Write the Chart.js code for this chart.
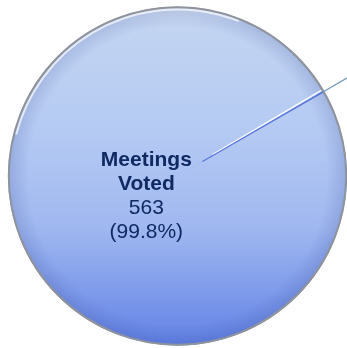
<!DOCTYPE html>
<html>
<head>
<meta charset="utf-8">
<script src="https://cdn.jsdelivr.net/npm/chart.js@4/dist/chart.umd.min.js"></script>
<style>
  html, body { margin: 0; padding: 0; background: #ffffff; }
  #wrap { width: 347px; height: 348px; position: relative; }
</style>
</head>
<body>
<div id="wrap"><canvas id="c"></canvas></div>
<script>
const categories = ["Meetings Voted", "Meetings Not Voted"];
const values = [563, 1];
const showLabel = [true, false];

const total = values.reduce((a, b) => a + b, 0);

function sliceFill(context) {
  if (context.dataIndex !== 0) return '#5c7ade';
  const chart = context.chart;
  const area = chart.chartArea;
  if (!area) return '#aac0f0';
  const g = chart.ctx.createLinearGradient(0, area.top, 0, area.bottom);
  g.addColorStop(0.00, '#d4e0f2');
  g.addColorStop(0.05, '#c2d4f1');
  g.addColorStop(0.35, '#b6cbf3');
  g.addColorStop(0.65, '#a0b8f0');
  g.addColorStop(1.00, '#6282e6');
  return g;
}

const decorPlugin = {
  id: 'decor',
  afterDatasetsDraw(chart) {
    const ctx = chart.ctx;
    const meta = chart.getDatasetMeta(0);
    const a0 = meta.data[0];
    const cx = a0.x, cy = a0.y, R = a0.outerRadius;

    // soft edge shading
    ctx.save();
    const rg = ctx.createRadialGradient(cx, cy, R * 0.88, cx, cy, R);
    rg.addColorStop(0, 'rgba(40,60,140,0)');
    rg.addColorStop(1, 'rgba(40,60,140,0.18)');
    ctx.beginPath();
    ctx.arc(cx, cy, R, 0, Math.PI * 2);
    ctx.fillStyle = rg;
    ctx.fill();
    // rim: grey edge plus white inner highlight (upper left)
    ctx.beginPath();
    ctx.arc(cx, cy, R - 0.8, 0, Math.PI * 2);
    ctx.lineWidth = 2;
    ctx.strokeStyle = '#8f939b';
    ctx.stroke();
    ctx.beginPath();
    ctx.arc(cx, cy, R - 3, Math.PI * 1.08, Math.PI * 1.62);
    ctx.lineWidth = 2;
    ctx.strokeStyle = 'rgba(255,255,255,0.7)';
    ctx.stroke();
    ctx.restore();

    // small slice: white highlight edge + leader line outward
    meta.data.forEach((arc, i) => {
      if (showLabel[i]) return;
      const mid = (arc.startAngle + arc.endAngle) / 2;
      const ux = Math.cos(arc.startAngle), uy = Math.sin(arc.startAngle);
      ctx.save();
      ctx.beginPath();
      ctx.moveTo(cx + ux * R * 0.24, cy + uy * R * 0.24 - 1);
      ctx.lineTo(cx + ux * (R - 3), cy + uy * (R - 3) - 1.5);
      ctx.strokeStyle = 'rgba(255,255,255,0.95)';
      ctx.lineWidth = 1.3;
      ctx.stroke();
      const mx = Math.cos(mid), my = Math.sin(mid);
      ctx.beginPath();
      ctx.moveTo(cx + mx * R * 0.17, cy + my * R * 0.17);
      ctx.lineTo(cx + mx * (R - 2), cy + my * (R - 2));
      ctx.strokeStyle = '#5a78dc';
      ctx.lineWidth = 1.2;
      ctx.stroke();
      ctx.beginPath();
      ctx.moveTo(cx + mx * (R - 1), cy + my * (R - 1));
      ctx.lineTo(cx + mx * R * 1.35, cy + my * R * 1.35);
      ctx.strokeStyle = '#6f98b8';
      ctx.lineWidth = 1.2;
      ctx.stroke();
      ctx.restore();
    });

    // labels
    meta.data.forEach((arc, i) => {
      if (!showLabel[i]) return;
      const mid = (arc.startAngle + arc.endAngle) / 2;
      const d = 36;
      const lx = cx + Math.cos(mid) * d;
      const ly = cy + Math.sin(mid) * d;
      const words = categories[i].split(' ');
      const pct = (values[i] / total * 100).toFixed(1) + '%';
      const lines = [
        { t: words[0], bold: true },
        { t: words.slice(1).join(' '), bold: true },
        { t: String(values[i]), bold: false },
        { t: '(' + pct + ')', bold: false }
      ];
      const lh = 24;
      const capH = 15;
      ctx.save();
      ctx.fillStyle = '#0f2a62';
      ctx.textAlign = 'center';
      ctx.textBaseline = 'alphabetic';
      const firstBase = ly - (lines.length - 1) * lh / 2 + capH / 2;
      lines.forEach((ln, k) => {
        ctx.font = (ln.bold ? 'bold ' : '') + '21px "Liberation Sans", Arial, sans-serif';
        ctx.fillText(ln.t, lx, firstBase + k * lh);
      });
      ctx.restore();
    });
  }
};

new Chart(document.getElementById('c'), {
  type: 'pie',
  data: {
    labels: categories,
    datasets: [{
      data: values,
      backgroundColor: sliceFill,
      borderWidth: 0
    }]
  },
  options: {
    responsive: true,
    maintainAspectRatio: false,
    animation: false,
    rotation: 60.3,
    layout: { padding: { left: 8, right: 0, top: 6, bottom: 2 } },
    plugins: {
      legend: { display: false },
      tooltip: { enabled: false }
    }
  },
  plugins: [decorPlugin]
});
</script>
</body>
</html>
